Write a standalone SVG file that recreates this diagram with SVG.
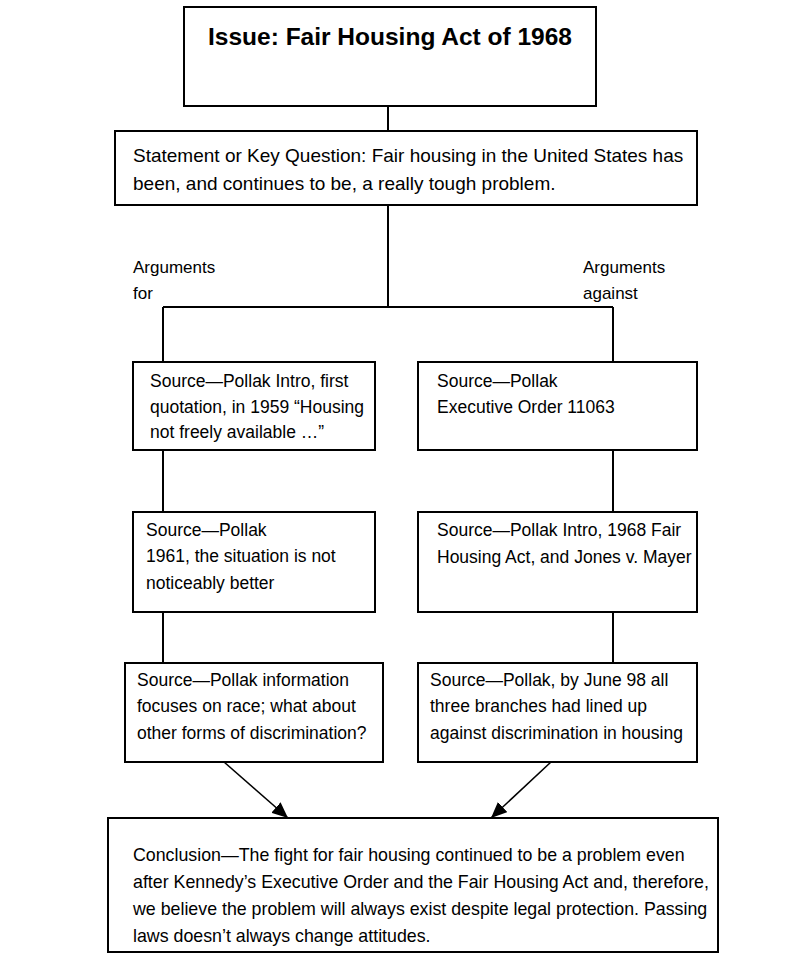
<svg xmlns="http://www.w3.org/2000/svg" width="812" height="959" viewBox="0 0 812 959">
<style>
.box{fill:#fff;stroke:#000;stroke-width:2}
.t{font-family:"Liberation Sans",Arial,sans-serif;font-size:17.5px;fill:#000}
.s{font-size:19px}
.cl{font-size:17.8px}
.lb{font-size:17px}
.b{font-weight:bold;font-size:24.5px}
.c{stroke:#000;stroke-width:2;fill:none}
</style>
<defs>
<marker id="ah" viewBox="0 0 16 14" refX="16" refY="7" markerWidth="16" markerHeight="14" markerUnits="userSpaceOnUse" orient="auto"><path d="M0,0 L16,7 L0,14 z" fill="#000"/></marker>
</defs>
<rect width="812" height="959" fill="#fff"/>
<g id="connectors">
<line class="c" x1="388" y1="106" x2="388" y2="131"/>
<line class="c" x1="388" y1="205" x2="388" y2="307"/>
<line class="c" x1="163" y1="307" x2="613" y2="307"/>
<line class="c" x1="163" y1="307" x2="163" y2="362"/>
<line class="c" x1="613" y1="307" x2="613" y2="362"/>
<line class="c" x1="163" y1="450" x2="163" y2="512"/>
<line class="c" x1="163" y1="612" x2="163" y2="663"/>
<line class="c" x1="613" y1="450" x2="613" y2="512"/>
<line class="c" x1="613" y1="612" x2="613" y2="663"/>
<line class="c" x1="224" y1="762" x2="288" y2="818" marker-end="url(#ah)" style="stroke-width:1.5"/>
<line class="c" x1="551" y1="762" x2="491" y2="818" marker-end="url(#ah)" style="stroke-width:1.5"/>
</g>
<g id="issue"><rect class="box" x="184" y="7" width="412" height="99"/><text class="t b" x="390" y="45" text-anchor="middle">Issue: Fair Housing Act of 1968</text></g>
<g id="statement"><rect class="box" x="115" y="131" width="582" height="74"/><text class="t s"><tspan x="133" y="162">Statement or Key Question: Fair housing in the United States has</tspan><tspan x="133" y="190">been, and continues to be, a really tough problem.</tspan></text></g>
<g id="label-for"><text class="t lb"><tspan x="133" y="273">Arguments</tspan><tspan x="133" y="299">for</tspan></text></g>
<g id="label-against"><text class="t lb"><tspan x="583" y="273">Arguments</tspan><tspan x="583" y="299">against</tspan></text></g>
<g id="for1"><rect class="box" x="133" y="362" width="242" height="88"/><text class="t"><tspan x="150" y="387">Source—Pollak Intro, first</tspan><tspan x="150" y="413">quotation, in 1959 “Housing</tspan><tspan x="150" y="438">not freely available …”</tspan></text></g>
<g id="for2"><rect class="box" x="133" y="512" width="242" height="100"/><text class="t"><tspan x="146" y="536">Source—Pollak</tspan><tspan x="146" y="562">1961, the situation is not</tspan><tspan x="146" y="589">noticeably better</tspan></text></g>
<g id="for3"><rect class="box" x="125" y="663" width="258" height="99"/><text class="t"><tspan x="137" y="686">Source—Pollak information</tspan><tspan x="137" y="712">focuses on race; what about</tspan><tspan x="137" y="739">other forms of discrimination?</tspan></text></g>
<g id="against1"><rect class="box" x="418" y="362" width="279" height="88"/><text class="t"><tspan x="437" y="387">Source—Pollak</tspan><tspan x="437" y="413">Executive Order 11063</tspan></text></g>
<g id="against2"><rect class="box" x="418" y="512" width="279" height="100"/><text class="t"><tspan x="437" y="536">Source—Pollak Intro, 1968 Fair</tspan><tspan x="437" y="563">Housing Act, and Jones v. Mayer</tspan></text></g>
<g id="against3"><rect class="box" x="418" y="663" width="279" height="99"/><text class="t"><tspan x="430" y="686">Source—Pollak, by June 98 all</tspan><tspan x="430" y="712">three branches had  lined up</tspan><tspan x="430" y="739">against discrimination in  housing</tspan></text></g>
<g id="conclusion"><rect class="box" x="108" y="818" width="610" height="134"/><text class="t cl"><tspan x="133" y="861">Conclusion—The fight for fair housing continued to be a problem even</tspan><tspan x="133" y="888">after Kennedy’s Executive Order and the Fair Housing Act and, therefore,</tspan><tspan x="133" y="915">we believe the problem will always exist despite legal protection. Passing</tspan><tspan x="133" y="942">laws doesn’t always change attitudes.</tspan></text></g>
</svg>
